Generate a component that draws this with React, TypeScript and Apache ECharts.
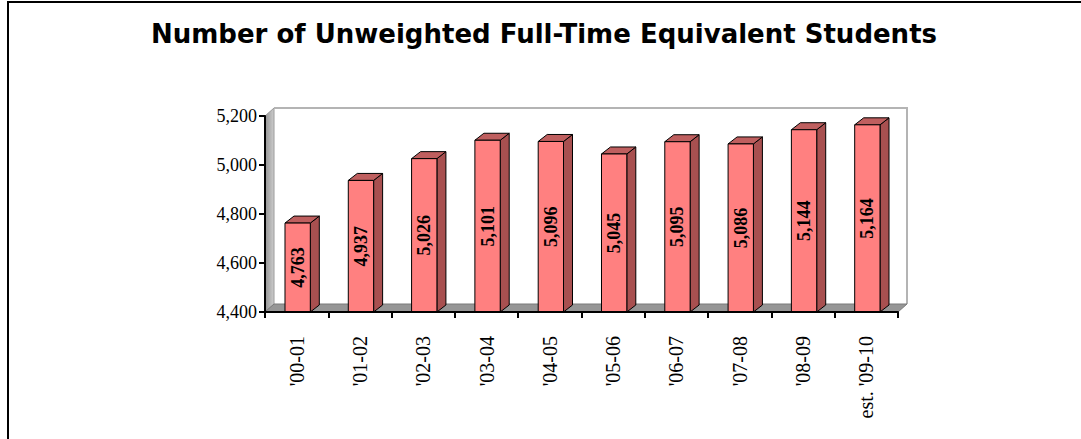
import React, { useEffect, useRef } from "react";
import * as echarts from "echarts";

const categories = ["'00-01", "'01-02", "'02-03", "'03-04", "'04-05", "'05-06", "'06-07", "'07-08", "'08-09", "est. '09-10"];
const students = [4763, 4937, 5026, 5101, 5096, 5045, 5095, 5086, 5144, 5164];
const yMin = 4400;
const yMax = 5200;
const yInterval = 200;
const titleText = "Number of Unweighted Full-Time Equivalent Students";

const fmt = (v: number) => v.toLocaleString("en-US");

export default function App() {
  const ref = useRef<HTMLDivElement>(null);
  useEffect(() => {
    if (!ref.current) return;
    const chart = echarts.init(ref.current, undefined, { renderer: "svg" });
    const GL = 265, GT = 116, GW = 633, GH = 196;
    const GB = GT + GH, GR = GL + GW;
    const wdx = 9, wdy = -8;
    const bdx = 9, bdy = -7;
    chart.setOption({
      animation: false,
      backgroundColor: "#ffffff",
      grid: { left: GL, top: GT, width: GW, height: GH, containLabel: false },
      graphic: [
        {
          type: "rect",
          z: 0,
          shape: { x: 8, y: 2, width: 1200, height: 600 },
          style: { fill: "none", stroke: "#000", lineWidth: 2 },
        },
        {
          type: "text",
          z: 0,
          x: 544,
          y: 34,
          style: {
            text: titleText,
            font: 'bold 26px "DejaVu Sans"',
            fill: "#000",
            textAlign: "center",
            textVerticalAlign: "middle",
          },
        },
        {
          type: "polygon",
          z: 0,
          shape: { points: [[GL, GB], [GL, GT], [GL + wdx, GT + wdy], [GL + wdx, GB + wdy]] },
          style: {
            fill: new echarts.graphic.LinearGradient(0, 0, 1, 0, [
              { offset: 0, color: "#949494" },
              { offset: 1, color: "#cccccc" },
            ]),
            stroke: "#9a9a9a",
            lineWidth: 1,
          },
        },
        {
          type: "polyline",
          z: 0,
          shape: { points: [[GL + wdx, GT + wdy], [GR + wdx, GT + wdy], [GR + wdx, GB + wdy]] },
          style: { fill: "none", stroke: "#b4b4b4", lineWidth: 2 },
        },
        {
          type: "polygon",
          z: 0,
          shape: { points: [[GL, GB], [GL + wdx, GB + wdy], [GR + wdx, GB + wdy], [GR, GB]] },
          style: { fill: "#969696", stroke: "#7a7a7a", lineWidth: 1 },
        },
      ],
      xAxis: {
        type: "category",
        data: categories,
        z: 5,
        axisLine: { show: true, lineStyle: { color: "#000", width: 2 } },
        axisTick: { show: true, length: 6, interval: 0, lineStyle: { color: "#000", width: 2 } },
        axisLabel: {
          interval: 0,
          rotate: 90,
          margin: 24,
          color: "#000",
          fontFamily: '"Liberation Serif"',
          fontSize: 20,
        },
        splitLine: { show: false },
      },
      yAxis: {
        type: "value",
        min: yMin,
        max: yMax,
        interval: yInterval,
        z: 5,
        axisLine: { show: true, lineStyle: { color: "#000", width: 2 } },
        axisTick: { show: true, length: 6, lineStyle: { color: "#000", width: 2 } },
        axisLabel: {
          margin: 8,
          color: "#000",
          fontFamily: '"Liberation Serif"',
          fontSize: 18,
          formatter: (v: number) => fmt(v),
        },
        splitLine: { show: false },
      },
      series: [
        {
          type: "custom",
          z: 3,
          data: students.map((v, i) => [i, v]),
          encode: { x: 0, y: 1 },
          renderItem: (params: any, api: any) => {
            const idx = api.value(0);
            const val = api.value(1);
            const top = api.coord([idx, val]);
            const base = api.coord([idx, yMin]);
            const bw = api.size([1, 0])[0] * 0.4;
            const cx = top[0] + 1;
            const x0 = cx - bw / 2;
            const x1 = cx + bw / 2;
            const yT = top[1];
            const yB = base[1];
            return {
              type: "group",
              children: [
                {
                  type: "polygon",
                  shape: { points: [[x1, yB], [x1, yT], [x1 + bdx, yT + bdy], [x1 + bdx, yB + bdy]] },
                  style: { fill: "#a85050", stroke: "#000", lineWidth: 1 },
                },
                {
                  type: "polygon",
                  shape: { points: [[x0, yT], [x0 + bdx, yT + bdy], [x1 + bdx, yT + bdy], [x1, yT]] },
                  style: { fill: "#bf5f5f", stroke: "#000", lineWidth: 1 },
                },
                {
                  type: "rect",
                  shape: { x: x0, y: yT, width: bw, height: yB - yT },
                  style: { fill: "#ff8080", stroke: "#000", lineWidth: 1 },
                },
                {
                  type: "text",
                  x: cx,
                  y: (yT + yB) / 2,
                  rotation: Math.PI / 2,
                  style: {
                    text: fmt(val),
                    font: 'bold 18px "Liberation Serif"',
                    fill: "#000",
                    textAlign: "center",
                    textVerticalAlign: "middle",
                  },
                },
              ],
            };
          },
        },
      ],
    });
    return () => chart.dispose();
  }, []);
  return (
    <div
      ref={ref}
      style={{ position: "fixed", left: 0, top: 0, width: 1081, height: 439, background: "#fff" }}
    />
  );
}
